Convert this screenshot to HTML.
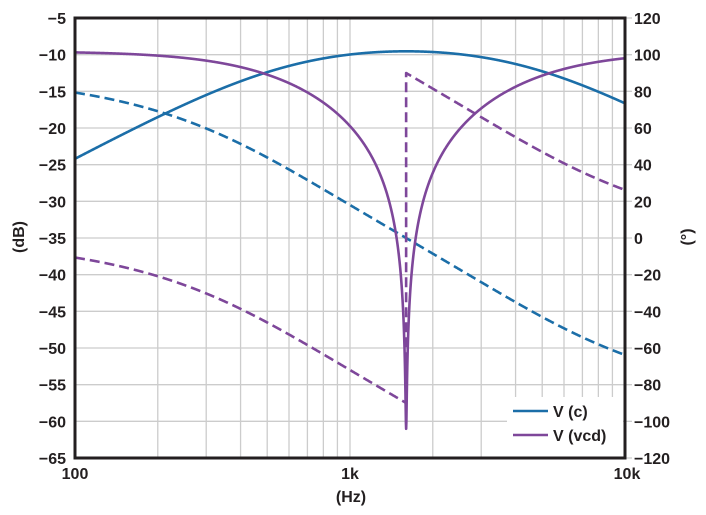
<!DOCTYPE html>
<html>
<head>
<meta charset="utf-8">
<style>
html,body{margin:0;padding:0;background:#fff;}
svg{display:block;}
text{font-family:"Liberation Sans",Arial,sans-serif;font-weight:bold;fill:#231f20;}
</style>
</head>
<body>
<svg id="chart" width="706" height="515" viewBox="0 0 706 515" xmlns="http://www.w3.org/2000/svg">
  <rect x="0" y="0" width="706" height="515" fill="#fff"/>
  <g id="grid" stroke="#cccccc" stroke-width="1.3" fill="none"></g>
  <defs>
    <clipPath id="pc"><rect x="75" y="18" width="550" height="440"/></clipPath>
  </defs>
  <rect x="507" y="397" width="116" height="51" fill="#fff"/>
  <g clip-path="url(#pc)" fill="none" stroke-width="2.6" stroke-linejoin="round">
    <path id="bm" stroke="#1b6ea8"/>
    <path id="bp" stroke="#1b6ea8" stroke-dasharray="10 5"/>
    <path id="pm" stroke="#7e479a"/>
    <path id="pp" stroke="#7e479a" stroke-dasharray="10 5"/>
  </g>
  <!-- legend -->
  <line x1="513" y1="411" x2="548" y2="411" stroke="#1b6ea8" stroke-width="2.6"/>
  <line x1="513" y1="435" x2="548" y2="435" stroke="#7e479a" stroke-width="2.6"/>
  <text x="553" y="417" font-size="16">V (c)</text>
  <text x="553" y="441" font-size="16">V (vcd)</text>
  <!-- frame -->
  <rect x="75" y="18" width="550" height="440" fill="none" stroke="#231f20" stroke-width="3"/>
  <g id="labels"></g>
  <text x="350" y="479" font-size="16" text-anchor="middle">1k</text>
  <text x="75" y="479" font-size="16" text-anchor="middle">100</text>
  <text x="627" y="479" font-size="16" text-anchor="middle">10k</text>
  <text x="351" y="502" font-size="16" text-anchor="middle">(Hz)</text>
  <text transform="translate(24,237) rotate(-90)" font-size="16" text-anchor="middle">(dB)</text>
  <text transform="translate(692,237) rotate(-90)" font-size="16" text-anchor="middle">(°)</text>
</svg>
<script>
(function(){
  var NS="http://www.w3.org/2000/svg";
  function X(f){return 75+275*Math.log10(f/100);}
  function Yd(db){return 18+(-5-db)*440/60;}
  function Yp(p){return 238-p*440/240;}
  var grid=document.getElementById('grid');
  function line(x1,y1,x2,y2,parent){var l=document.createElementNS(NS,'line');l.setAttribute('x1',x1);l.setAttribute('y1',y1);l.setAttribute('x2',x2);l.setAttribute('y2',y2);parent.appendChild(l);return l;}
  var fs=[];
  for(var d=100; d<=1000; d*=10){for(var k=1;k<=9;k++){fs.push(d*k);}}
  fs.push(10000);
  fs.forEach(function(f){var x=X(f);
    if(x>507 && x<623){ line(x,18,x,397,grid); }
    else line(x,18,x,458,grid);
  });
  for(var i=0;i<=12;i++){var y=18+i*440/12;
    if(y>397 && y<448){ line(75,y,507,y,grid); line(623,y,632,y,grid);}
    else line(75,y,632,y,grid);
  }
  var lab=document.getElementById('labels');
  function txt(x,y,s,anchor){var t=document.createElementNS(NS,'text');t.setAttribute('x',x);t.setAttribute('y',y);t.setAttribute('font-size','16');t.setAttribute('text-anchor',anchor);t.textContent=s;lab.appendChild(t);}
  for(var i=0;i<=12;i++){var y=18+i*440/12;
    var db=-5-5*i; txt(66,y+6,(db<0?'\u2212':'')+Math.abs(db),'end');
    var p=120-20*i; txt(634,y+6,(p<0?'\u2212':'')+Math.abs(p),'start');
  }
  var f0=1600, eps=0.008;
  var N=2400, pts=[];
  for(var i=0;i<=N;i++){pts.push(100*Math.pow(100,i/N));}
  var bm='',bp='',pm='',pp='';
  var deg=180/Math.PI;
  var left=[],right=[];
  pts.forEach(function(f){ if(f<f0) left.push(f); else if(f>f0) right.push(f);});
  function H(f){var x=f/f0, yv=x-1/x;
    var magB=1/Math.sqrt(9+yv*yv);
    var phB=-Math.atan(yv/3)*deg;
    var magP=Math.sqrt(yv*yv+eps*eps)/(3*Math.sqrt(9+yv*yv));
    return {bm:20*Math.log10(magB),bp:phB,pm:20*Math.log10(magP),yv:yv};
  }
  var all=left.concat([f0]).concat(right);
  all.forEach(function(f,i){var h=H(f),x=X(f).toFixed(2);var c=(i==0?'M':'L');
    bm+=c+x+','+Yd(h.bm).toFixed(2);
    bp+=c+x+','+Yp(h.bp).toFixed(2);
    pm+=c+x+','+Yd(h.pm).toFixed(2);
  });
  left.forEach(function(f,i){var h=H(f);var ph=-90+Math.atan(Math.abs(h.yv)/3)*deg;
    pp+=(i==0?'M':'L')+X(f).toFixed(2)+','+Yp(ph).toFixed(2);});
  pp+='L'+X(f0).toFixed(2)+','+Yp(-89.5).toFixed(2);
  pp+='L'+X(f0).toFixed(2)+','+Yp(90).toFixed(2);
  right.forEach(function(f){var h=H(f);var ph=90-Math.atan(h.yv/3)*deg;
    pp+='L'+X(f).toFixed(2)+','+Yp(ph).toFixed(2);});
  document.getElementById('bm').setAttribute('d',bm);
  document.getElementById('bp').setAttribute('d',bp);
  document.getElementById('pm').setAttribute('d',pm);
  document.getElementById('pp').setAttribute('d',pp);
})();
</script>
</body>
</html>
